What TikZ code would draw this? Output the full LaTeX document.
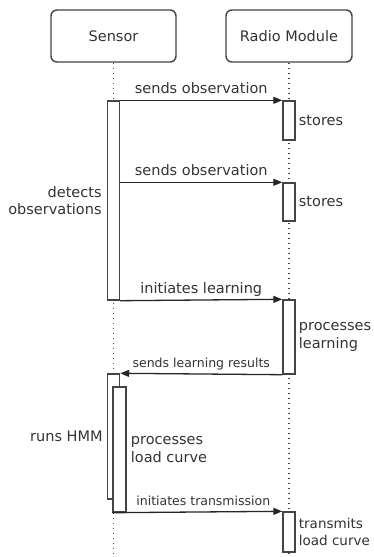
\documentclass[tikz,border=0pt]{standalone}
\usepackage{fontspec}
\setmainfont{DejaVu Sans}
\usetikzlibrary{arrows.meta}
\definecolor{ink}{HTML}{333333}
\definecolor{edge}{HTML}{444444}

\begin{document}
\begin{tikzpicture}[x=1pt,y=-1pt,
  font=\fontsize{14.5}{17.5}\selectfont,
  actor/.style={draw=edge, line width=1.4pt, rounded corners=6pt,
    minimum height=52pt, text=ink},
  act/.style={draw=edge, line width=1.4pt, fill=white,
    minimum width=12pt, inner sep=0pt},
  life/.style={draw=edge, line width=1.5pt, dash pattern=on 1.5pt off 3.5pt},
  msg/.style={draw=black!85, line width=1.3pt,
    -{Triangle[length=9pt,width=7pt]}},
  mlabel/.style={midway, anchor=base, yshift=7pt, text=ink, inner sep=0pt},
  small/.style={font=\fontsize{12.5}{15}\selectfont},
  side/.style={text=ink, inner sep=0pt, align=left},
]
\useasboundingbox (0,0) rectangle (373,557);

% participants
\node[actor, minimum width=125pt] (sensor) at (113.5,36) {Sensor};
\node[actor, minimum width=126pt] (radio) at (289,36) {Radio Module};

% lifelines
\coordinate (sensorEnd) at (113.5,557);
\coordinate (radioEnd) at (289,557);
\draw[life] (sensor.south) -- (sensorEnd);
\draw[life] (radio.south) -- (radioEnd);

% activation bars
\node[act, minimum height=199pt] (s1) at (113.5,200.5) {};
\node[act, minimum height=39pt] (r1) at (289,120.5) {};
\node[act, minimum height=38pt] (r2) at (289,202) {};
\node[act, minimum height=74pt] (r3) at (289,337) {};
\node[act, minimum height=125pt] (s2) at (113.5,436.5) {};
\node[act, minimum height=125pt, minimum width=13pt] (s3) at (119.5,449.5) {};
\node[act, minimum height=40pt] (r4) at (289,532) {};

% messages
\draw[msg] (s1.north east) -- (r1.north west)
  node[mlabel] {sends observation};
\draw[msg] (s1.east |- r2.north) -- (r2.north west)
  node[mlabel] {sends observation};
\draw[msg] (s1.south east) -- (r3.north west)
  node[mlabel] {initiates learning};
\draw[msg] (r3.south west) -- (s2.north east)
  node[mlabel, small] {sends learning results};
\draw[msg] (s3.south west) -- (r4.north west)
  node[mlabel, small, xshift=6pt] {initiates transmission};

% activity notes
\node[side, anchor=west] at ([xshift=3pt]r1.east) {stores};
\node[side, anchor=west] at ([xshift=3pt]r2.east) {stores};
\node[side, anchor=west] at ([xshift=3pt]r3.east) {processes\\learning};
\node[side, anchor=west, font=\fontsize{13.5}{17.5}\selectfont]
  at ([xshift=3pt]r4.east) {transmits\\load curve};
\node[side, anchor=east, align=right] at ([xshift=-5pt]s1.west)
  {detects\\observations};
\node[side, anchor=east] at ([xshift=-4pt]s2.west) {runs HMM};
\node[side, anchor=west] at ([xshift=4pt]s3.east) {processes\\load curve};
\end{tikzpicture}
\end{document}
